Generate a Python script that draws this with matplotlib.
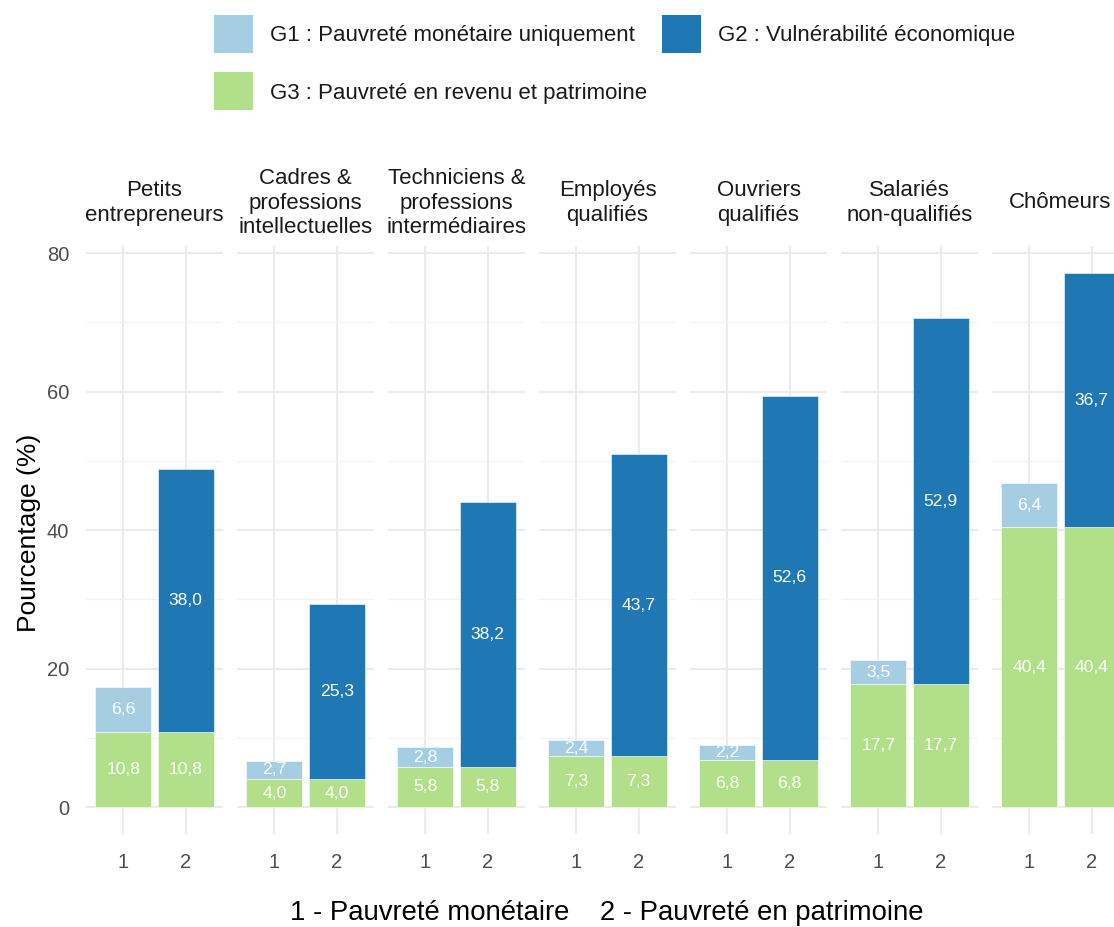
import matplotlib
matplotlib.use('Agg')
import matplotlib.pyplot as plt
from matplotlib.patches import Rectangle

plt.rcParams['font.family'] = ['Liberation Sans', 'DejaVu Sans']

categories = ["Petits\nentrepreneurs",
              "Cadres &\nprofessions\nintellectuelles",
              "Techniciens &\nprofessions\nintermédiaires",
              "Employés\nqualifiés",
              "Ouvriers\nqualifiés",
              "Salariés\nnon-qualifiés",
              "Chômeurs"]
g3_values = [10.8, 4.0, 5.8, 7.3, 6.8, 17.7, 40.4]
g1_values = [6.6, 2.7, 2.8, 2.4, 2.2, 3.5, 6.4]
g2_values = [38.0, 25.3, 38.2, 43.7, 52.6, 52.9, 36.7]
bar_ticks = ["1", "2"]
legend_labels = ["G1 : Pauvreté monétaire uniquement",
                 "G2 : Vulnérabilité économique",
                 "G3 : Pauvreté en revenu et patrimoine"]
y_ticks = [0, 20, 40, 60, 80]
y_minor = [10, 30, 50, 70]

C_G1 = '#a6cee3'
C_G2 = '#1f78b4'
C_G3 = '#b2df8a'

W, H = 1114, 927
fig = plt.figure(figsize=(W / 100, H / 100), dpi=100)

ymax_data = max(a + b for a, b in zip(g3_values, g2_values))
ymax_data = max(ymax_data, max(a + b for a, b in zip(g3_values, g1_values)))
ylo, yhi = -0.05 * ymax_data, ymax_data * 1.05

panel_left0 = 86
panel_step = 151
panel_w = 137
panel_top = 246.4
panel_bot = 833.7

def fmt(v):
    return f"{v:.1f}".replace('.', ',')

for i, cat in enumerate(categories):
    left = panel_left0 + i * panel_step
    ax = fig.add_axes([left / W, 1 - panel_bot / H, panel_w / W, (panel_bot - panel_top) / H])
    ax.set_xlim(0.4, 2.6)
    ax.set_ylim(ylo, yhi)
    for s in ax.spines.values():
        s.set_visible(False)
    ax.set_yticks(y_ticks)
    ax.set_yticks(y_minor, minor=True)
    ax.set_xticks([1, 2])
    ax.set_xticklabels(bar_ticks)
    ax.tick_params(axis='both', which='both', length=0)
    ax.tick_params(axis='x', labelsize=14.5, labelcolor='#4d4d4d', pad=14)
    ax.tick_params(axis='y', labelsize=14.5, labelcolor='#4d4d4d', pad=12)
    if i != 0:
        ax.set_yticklabels([])
    ax.grid(True, which='major', color='#ebebeb', linewidth=1.5)
    ax.grid(True, which='minor', axis='y', color='#f2f2f2', linewidth=0.9)
    ax.set_axisbelow(True)

    kw = dict(width=0.9, edgecolor='white', linewidth=0.4)
    ax.bar([1], [g3_values[i]], color=C_G3, **kw)
    ax.bar([1], [g1_values[i]], bottom=[g3_values[i]], color=C_G1, **kw)
    ax.bar([2], [g3_values[i]], color=C_G3, **kw)
    ax.bar([2], [g2_values[i]], bottom=[g3_values[i]], color=C_G2, **kw)

    tk = dict(ha='center', va='center', color='white', fontsize=12.6)
    ax.text(1, g3_values[i] / 2, fmt(g3_values[i]), **tk)
    ax.text(1, g3_values[i] + g1_values[i] / 2, fmt(g1_values[i]), **tk)
    ax.text(2, g3_values[i] / 2, fmt(g3_values[i]), **tk)
    ax.text(2, g3_values[i] + g2_values[i] / 2, fmt(g2_values[i]), **tk)

    fig.text((left + panel_w / 2) / W, 1 - 203 / H, cat, ha='center', va='center',
             multialignment='center', fontsize=16, color='#1a1a1a', linespacing=1.22)

fig.text(29 / W, 1 - 533 / H, "Pourcentage (%)", rotation=90, ha='center', va='center',
         fontsize=19, color='black')
fig.text(607 / W, 1 - 913 / H, "1 - Pauvreté monétaire    2 - Pauvreté en patrimoine",
         ha='center', va='center', fontsize=19.8, color='black')

# legend (keys drawn in figure pixel positions)
legend_items = [(legend_labels[0], C_G1, 214, 15),
                (legend_labels[1], C_G2, 662, 15),
                (legend_labels[2], C_G3, 214, 72)]
key_w, key_h = 39, 38
for label, color, kx, ky in legend_items:
    fig.patches.append(Rectangle((kx / W, 1 - (ky + key_h) / H), key_w / W, key_h / H,
                                 transform=fig.transFigure, facecolor=color,
                                 edgecolor='none', figure=fig))
    fig.text((kx + key_w + 17) / W, 1 - (ky + key_h / 2 + 2) / H, label,
             ha='left', va='center', fontsize=16, color='#1a1a1a')

fig.savefig('out.png', dpi=100)
